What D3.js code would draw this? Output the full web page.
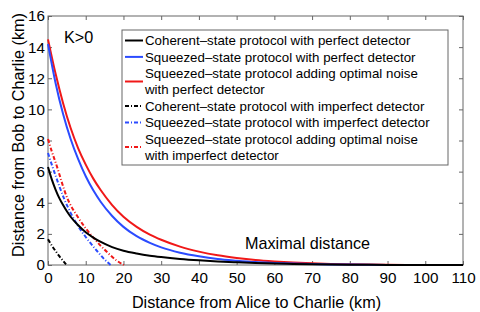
<!DOCTYPE html>
<html>
<head>
<meta charset="utf-8">
<script src="https://cdn.jsdelivr.net/npm/d3@7"></script>
<style>
  body { margin: 0; background: #fff; }
</style>
</head>
<body>
<div id="graph"></div>
<script>
// curves, [km from Alice, km from Bob]
var coherentPerfect = [[0,6.3],[1,5.5],[2,4.85],[3,4.3],[4,3.85],[5,3.45],[6,3.1],[8,2.55],[10,2.1],[12,1.76],[14,1.48],[17,1.15],[20,0.92],[23.5,0.74],[27,0.6],[30,0.51],[35,0.39],[40,0.3],[45,0.23],[50,0.175],[55,0.13],[60,0.095],[65,0.068],[70,0.047],[75,0.03],[80,0.018],[85,0.01],[90,0.004],[100,0],[110,0]]
var squeezedPerfect = [[0,14.2],[2,11.7],[4,9.7],[6,8.1],[8,6.8],[10,5.7],[12,4.8],[14,4.05],[17,3.15],[20,2.45],[23.5,1.85],[27,1.42],[30,1.13],[35,0.79],[40,0.56],[45,0.39],[50,0.28],[55,0.19],[60,0.135],[65,0.09],[70,0.06],[75,0.04],[80,0.025],[85,0.014],[90,0.007],[100,0.002],[110,0]]
var noisePerfect = [[0,14.5],[2,12.3],[4,10.4],[6,8.8],[8,7.5],[10,6.45],[12,5.55],[14,4.8],[17,3.85],[20,3.1],[23.5,2.45],[27,1.95],[30,1.62],[35,1.18],[40,0.86],[45,0.62],[50,0.45],[55,0.32],[60,0.23],[65,0.16],[70,0.11],[75,0.07],[80,0.045],[85,0.028],[90,0.016],[95,0.008],[100,0.004],[110,0]]
var coherentImperfect = [[0,1.65],[1,1.25],[2,0.9],[3,0.57],[4,0.27],[4.9,0]]
var squeezedImperfect = [[0,7.2],[1,6.45],[2,5.75],[4.24,4.28],[6,3.35],[7.8,2.57],[10,1.8],[13,0.9],[15,0.35],[16.6,0]]
var noiseImperfect = [[0,8.1],[1,7.3],[2,6.6],[5.1,4.3],[8,3.05],[12.2,1.71],[16,0.75],[18,0.32],[20.1,0]]

var legendLabels = [
  ['Coherent\u2013state protocol with perfect detector'],
  ['Squeezed\u2013state protocol with perfect detector'],
  ['Squeezed\u2013state protocol adding optimal noise', 'with perfect detector'],
  ['Coherent\u2013state protocol with imperfect detector'],
  ['Squeezed\u2013state protocol with imperfect detector'],
  ['Squeezed\u2013state protocol adding optimal noise', 'with imperfect detector']
]
var xTicks = d3.range(0, 111, 10)
var yTicks = d3.range(0, 17, 2)

var series = [
  {data: coherentPerfect, color: '#000', dash: null},
  {data: squeezedPerfect, color: '#2b4bff', dash: null},
  {data: noisePerfect, color: '#f01818', dash: null},
  {data: coherentImperfect, color: '#000', dash: '4,2,1,2'},
  {data: squeezedImperfect, color: '#2b4bff', dash: '4,2,1,2'},
  {data: noiseImperfect, color: '#f01818', dash: '4,2,1,2'}
]
series.forEach((d, i) => d.label = legendLabels[i])

var W = 480, H = 312
var margin = {left: 48, top: 16, right: 17, bottom: 47}
var width = W - margin.left - margin.right
var height = H - margin.top - margin.bottom

var svg = d3.select('#graph').append('svg')
  .attr('width', W).attr('height', H)
  .attr('font-family', '"Liberation Sans", Arial, Helvetica, sans-serif')
var g = svg.append('g').attr('transform', `translate(${margin.left},${margin.top})`)

var x = d3.scaleLinear().domain([0, 110]).range([0, width])
var y = d3.scaleLinear().domain([0, 16]).range([height, 0])

var axisColor = '#666'
function styleAxis(sel, labels) {
  sel.attr('font-family', null).attr('font-size', null)
  sel.select('.domain').remove()
  sel.selectAll('line').attr('stroke', axisColor)
  sel.selectAll('text').attr('font-size', 15.2).attr('fill', '#000')
  if (!labels) sel.selectAll('text').remove()
}

g.append('g').attr('transform', `translate(0,${height})`)
  .call(d3.axisBottom(x).tickValues(xTicks).tickSizeInner(-4).tickSizeOuter(0).tickPadding(7))
  .call(styleAxis, true)
g.append('g')
  .call(d3.axisTop(x).tickValues(xTicks).tickSizeInner(-4).tickSizeOuter(0))
  .call(styleAxis, false)
g.append('g')
  .call(d3.axisLeft(y).tickValues(yTicks).tickSizeInner(-4).tickSizeOuter(0).tickPadding(3))
  .call(styleAxis, true)
g.append('g').attr('transform', `translate(${width},0)`)
  .call(d3.axisRight(y).tickValues(yTicks).tickSizeInner(-4).tickSizeOuter(0))
  .call(styleAxis, false)

g.append('rect')
  .attr('width', width).attr('height', height)
  .attr('fill', 'none').attr('stroke', axisColor)

var line = d3.line()
  .x(d => x(d[0]))
  .y(d => y(d[1]))
  .curve(d3.curveMonotoneX)

g.selectAll('path.curve').data(series.slice().reverse()).join('path')
  .attr('class', 'curve')
  .attr('d', d => line(d.data))
  .attr('fill', 'none')
  .attr('stroke', d => d.color)
  .attr('stroke-width', 2)
  .attr('stroke-dasharray', d => d.dash)

g.append('text').attr('x', 16).attr('y', 27).attr('font-size', 16.2).text('K>0')
g.append('text').attr('x', 197).attr('y', 233).attr('font-size', 16.2).text('Maximal distance')

// legend
var lg = svg.append('g').attr('transform', 'translate(122,30)')
lg.append('rect').attr('width', 326).attr('height', 135)
  .attr('fill', '#fff').attr('stroke', axisColor)

var k = 0
series.forEach(function(s) {
  var n = s.label.length
  var cy = 10.5 + (k + (n - 1) / 2) * 16.4
  lg.append('line')
    .attr('x1', 3).attr('x2', 21).attr('y1', cy).attr('y2', cy)
    .attr('stroke', s.color).attr('stroke-width', 2)
    .attr('stroke-dasharray', s.dash)
  s.label.forEach(function(t) {
    lg.append('text').attr('x', 23).attr('y', 10.5 + k * 16.4)
      .attr('dy', '0.35em').attr('font-size', 13.3).text(t)
    k++
  })
})

// axis titles
svg.append('text')
  .attr('x', margin.left + width / 2 + 1).attr('y', 308)
  .attr('text-anchor', 'middle').attr('font-size', 16.2)
  .text('Distance from Alice to Charlie (km)')
svg.append('text')
  .attr('transform', 'translate(24,135) rotate(-90)')
  .attr('text-anchor', 'middle').attr('font-size', 16.2)
  .text('Distance from Bob to Charlie (km)')
</script>
</body>
</html>
